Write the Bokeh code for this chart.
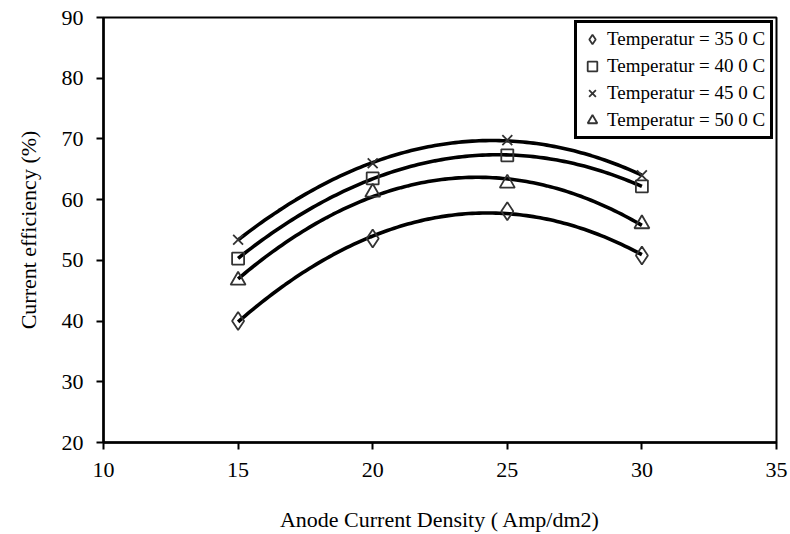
import numpy as np
from bokeh.plotting import figure
from bokeh.models import Legend, LegendItem, FixedTicker, Range1d
from bokeh.embed import file_html
from bokeh.resources import INLINE

x_vals = [15, 20, 25, 30]
t35 = [40.0, 53.6, 58.1, 50.8]
t40 = [50.3, 63.5, 67.3, 62.2]
t45 = [53.4, 66.0, 69.8, 64.0]
t50 = [46.7, 61.2, 62.7, 56.0]
labels = ["Temperatur = 35 0 C", "Temperatur = 40 0 C",
          "Temperatur = 45 0 C", "Temperatur = 50 0 C"]
markers = ["diamond", "square", "x", "triangle"]
x_ticks = [10, 15, 20, 25, 30, 35]
y_ticks = [20, 30, 40, 50, 60, 70, 80, 90]

FONT = "Liberation Serif"

p = figure(width=790, height=534, output_backend="svg", toolbar_location=None,
           x_range=Range1d(10, 35), y_range=Range1d(20, 90),
           min_border_left=103, min_border_right=14, min_border_top=17,
           min_border_bottom=92)
p.xgrid.visible = False
p.ygrid.visible = False
p.outline_line_color = "black"
p.outline_line_width = 2
p.outline_line_alpha = 1
p.background_fill_color = "white"
p.border_fill_color = "white"

for ax, ticks in ((p.xaxis, x_ticks), (p.yaxis, y_ticks)):
    ax.ticker = FixedTicker(ticks=ticks)
    ax.axis_line_width = 2.5
    ax.major_tick_line_width = 2
    ax.major_tick_out = 7
    ax.major_tick_in = 0
    ax.minor_tick_line_color = None
    ax.major_label_text_font = FONT
    ax.major_label_text_font_size = "22px"
    ax.major_label_text_color = "black"
    ax.axis_label_text_font = FONT
    ax.axis_label_text_font_size = "22px"
    ax.axis_label_text_font_style = "normal"
    ax.axis_label_text_color = "black"

p.xaxis.major_label_standoff = 13
p.yaxis.major_label_standoff = 13
p.xaxis.axis_label = "Anode Current Density ( Amp/dm2)"
p.yaxis.axis_label = "Current efficiency (%)"
p.xaxis.axis_label_standoff = 27
p.yaxis.axis_label_standoff = 18

xs_fine = np.linspace(min(x_vals), max(x_vals), 120)
sizes = {"diamond": 18, "square": 12, "x": 14, "triangle": 15}
items = []
for ys in [t35, t40, t45, t50]:
    coef = np.polyfit(x_vals, ys, 2)
    p.line(xs_fine, np.polyval(coef, xs_fine), line_color="black", line_width=3.6)
for ys, lab, mk in zip([t35, t40, t45, t50], labels, markers):
    r = p.scatter(x_vals, ys, marker=mk, size=sizes[mk],
                  fill_color=None, line_color="#333333", line_width=1.8)
    items.append(LegendItem(label=lab, renderers=[r]))

legend = Legend(items=items, location="top_right")
legend.label_text_font = FONT
legend.label_text_font_size = "19px"
legend.label_text_color = "black"
legend.border_line_color = "black"
legend.border_line_width = 3
legend.border_line_alpha = 1
legend.background_fill_color = "white"
legend.background_fill_alpha = 1
legend.margin = 3
legend.padding = 3
legend.spacing = 1
legend.glyph_width = 24
legend.glyph_height = 26
legend.label_standoff = 3
legend.label_height = 26
legend.label_width = 160
p.add_layout(legend)

open("out.html", "w").write(file_html(p, INLINE))
